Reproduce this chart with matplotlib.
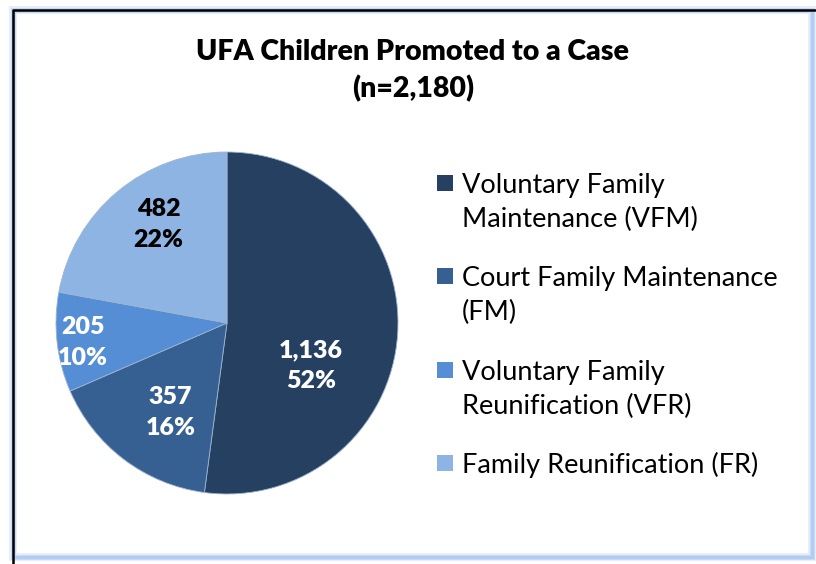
import numpy as np
import matplotlib.pyplot as plt
from matplotlib.patches import Rectangle
from matplotlib.lines import Line2D

# data
categories = ['Voluntary Family\nMaintenance (VFM)',
              'Court Family Maintenance\n(FM)',
              'Voluntary Family\nReunification (VFR)',
              'Family Reunification (FR)']
counts = [1136, 357, 205, 482]
percents = [52, 16, 10, 22]
title = 'UFA Children Promoted to a Case\n(n=2,180)'

colors = ['#254061', '#376092', '#558ED5', '#8EB4E3']
label_colors = ['white', 'white', 'white', 'black']
# label placement (radius fraction, angle nudge in degrees), like Excel's best fit
label_r = [0.55, 0.62, 0.85, 0.70]
label_dtheta = [-23, 5, 1, -5]

plt.rcParams['font.family'] = ['Lato', 'DejaVu Sans']

W, H = 816, 564
fig = plt.figure(figsize=(W / 100, H / 100), dpi=100)


def px(x, y):
    return x / W, 1 - y / H


# frame with soft blue glow and dark inner edge
for lw, a in [(8, 0.3), (5, 0.5), (3, 0.7)]:
    fig.patches.append(Rectangle(px(13, 557), (812 - 13) / W, (557 - 10) / H,
                                 transform=fig.transFigure, fill=False,
                                 edgecolor='#a9c8f0', lw=lw * 0.72, alpha=a,
                                 zorder=0))
fig.lines.append(Line2D([13 / W, 13 / W, 1.0], [0.0, 1 - 10 / H, 1 - 10 / H],
                        transform=fig.transFigure, color='black', lw=1.8))

# pie
cx, cy, r = 227, 323, 171
ax = fig.add_axes([(cx - r) / W, 1 - (cy + r) / H, 2 * r / W, 2 * r / H])
wedges, _ = ax.pie(counts, colors=colors, startangle=90, counterclock=False,
                   wedgeprops=dict(linewidth=0.6, edgecolor='#9db4cf'))
ax.set_aspect('equal')
ax.set_xlim(-1, 1)
ax.set_ylim(-1, 1)
ax.axis('off')

for i, w in enumerate(wedges):
    mid = np.deg2rad((w.theta1 + w.theta2) / 2 + label_dtheta[i])
    ax.text(label_r[i] * np.cos(mid), label_r[i] * np.sin(mid),
            f'{counts[i]:,}\n{percents[i]}%', ha='center', va='center',
            fontsize=18, fontweight='heavy', color=label_colors[i],
            linespacing=1.5)

fig.text(413 / W, 1 - 71 / H, title, ha='center', va='center', fontsize=20.5,
         fontweight='heavy', linespacing=1.45)

# legend: square key beside the first line of each (wrapped) label
leg_x, leg_y, step, line_h = 437, 183, 93.3, 34
sq = 16
for i, (lab, col) in enumerate(zip(categories, colors)):
    y = leg_y + i * step
    fig.patches.append(Rectangle(px(leg_x, y + sq / 2), sq / W, sq / H,
                                 transform=fig.transFigure, facecolor=col,
                                 edgecolor='none'))
    for j, line in enumerate(lab.split('\n')):
        fig.text(*px(leg_x + 25, y + j * line_h), line, ha='left',
                 va='center_baseline', fontsize=19.5)

fig.savefig('out.png', dpi=100)
